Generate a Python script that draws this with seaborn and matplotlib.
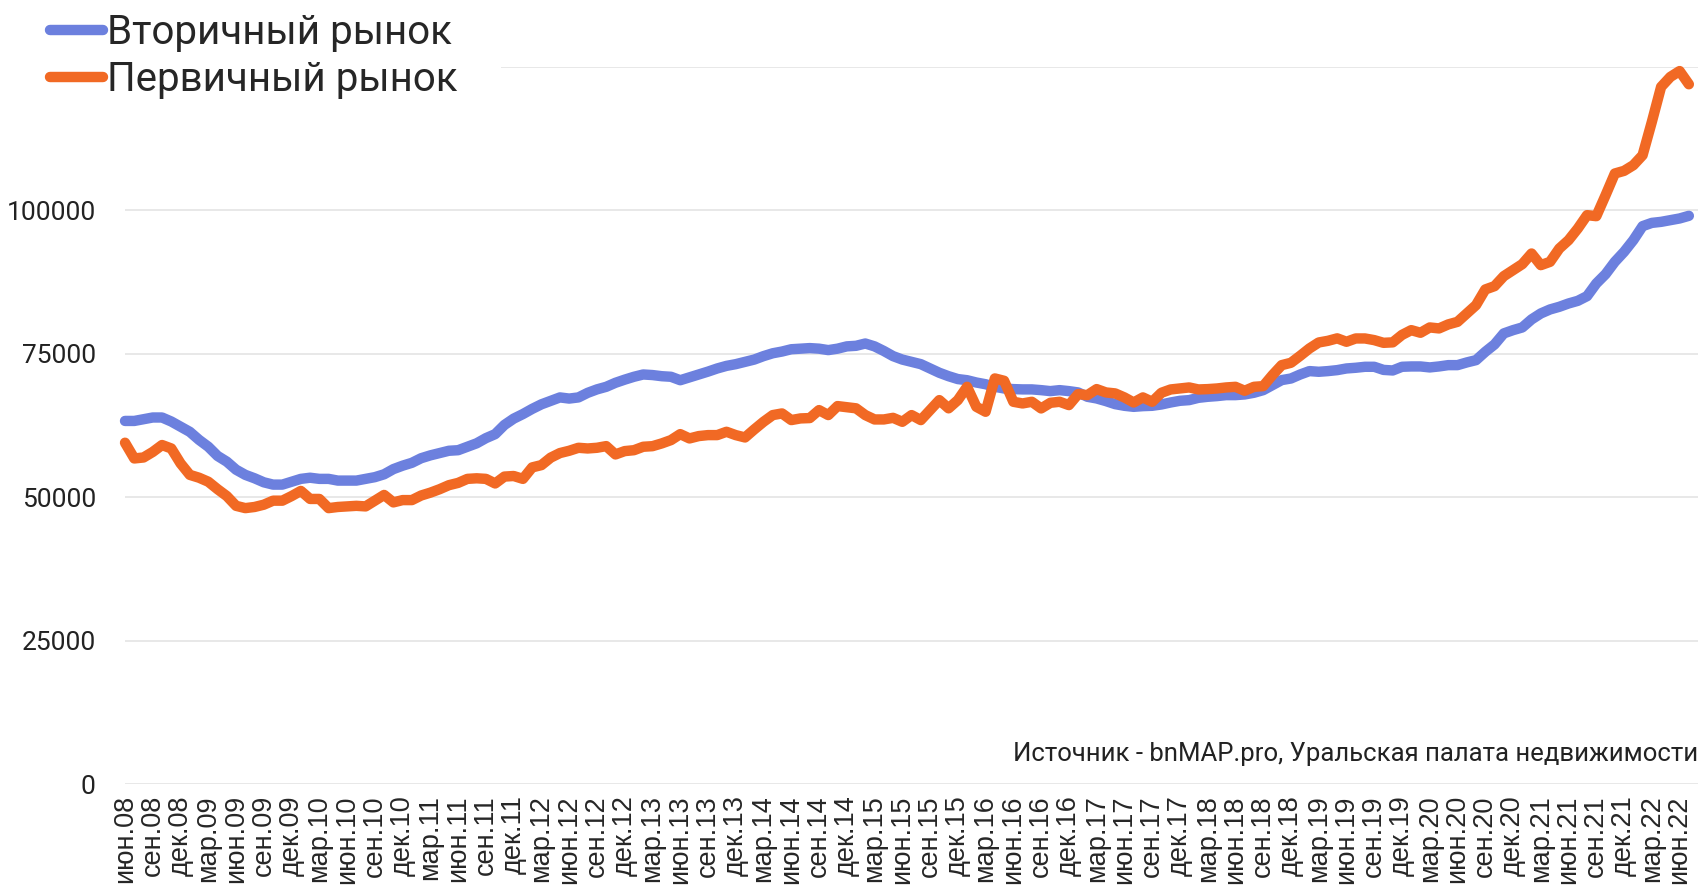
import numpy as np
import pandas as pd
import matplotlib.pyplot as plt
import seaborn as sns
from matplotlib.lines import Line2D
from matplotlib.patches import Rectangle

# average price per m2, monthly from июн.08 to июл.22
secondary = [63300, 63300, 63600, 63900, 63900, 63200, 62300, 61400, 60000, 58800,
             57200, 56200, 54800, 53900, 53300, 52600, 52200, 52200, 52700, 53200,
             53400, 53200, 53200, 52900, 52900, 52900, 53200, 53500, 54000, 54900,
             55500, 56000, 56800, 57300, 57700, 58100, 58200, 58800, 59400, 60300,
             61000, 62600, 63700, 64500, 65400, 66200, 66800, 67400, 67200, 67400,
             68200, 68800, 69250, 69950, 70500, 71000, 71400, 71300, 71100, 71000,
             70400, 70900, 71400, 71900, 72450, 72900, 73200, 73600, 74000, 74600,
             75100, 75400, 75800, 75900, 76000, 75900, 75650, 75900, 76300, 76400,
             76800, 76300, 75500, 74600, 74000, 73600, 73200, 72450, 71700, 71100,
             70600, 70400, 70000, 69700, 69250, 68960, 68850, 68800, 68800, 68670,
             68500, 68670, 68500, 68270, 67510, 67220, 66760, 66230, 65940, 65760,
             65880, 65940, 66170, 66520, 66810, 66930, 67330, 67510, 67630, 67800,
             67800, 67920, 68210, 68670, 69540, 70420, 70700, 71400, 71990, 71870,
             71990, 72160, 72450, 72570, 72740, 72740, 72200, 72100, 72740, 72800,
             72800, 72630, 72800, 73030, 73030, 73500, 73900, 75350, 76640, 78560,
             79130, 79600, 81000, 82040, 82740, 83200, 83780, 84240, 85060, 87270,
             88890, 91040, 92780, 94820, 97260, 97830, 98010, 98300, 98600, 99060]

primary = [59500, 56760, 56930, 57900, 59100, 58500, 55900, 53900, 53400, 52700,
           51400, 50200, 48500, 48100, 48300, 48700, 49400, 49400, 50200, 51100,
           49700, 49700, 48100, 48300, 48400, 48500, 48400, 49400, 50400, 49100,
           49500, 49500, 50300, 50800, 51400, 52100, 52500, 53200, 53300, 53200,
           52400, 53600, 53700, 53200, 55200, 55600, 56900, 57700, 58100, 58620,
           58500, 58620, 58910, 57460, 58040, 58200, 58800, 58900, 59380, 59960,
           61000, 60250, 60660, 60830, 60830, 61410, 60830, 60420, 61820, 63150,
           64320, 64610, 63450, 63740, 63800, 65190, 64320, 65890, 65700, 65500,
           64320, 63560, 63560, 63840, 63150, 64320, 63450, 65190, 66930, 65500,
           66930, 69250, 65770, 64900, 70710, 70300, 66640, 66350, 66640, 65480,
           66460, 66640, 66060, 67980, 67800, 68850, 68270, 68100, 67400, 66520,
           67400, 66640, 68210, 68790, 68960, 69140, 68790, 68850, 68960, 69140,
           69250, 68560, 69250, 69370, 71290, 73030, 73440, 74660, 75940, 76980,
           77270, 77700, 77100, 77680, 77680, 77390, 76920, 77000, 78300, 79130,
           78670, 79600, 79430, 80130, 80580, 82040, 83490, 86220, 86800, 88540,
           89590, 90640, 92490, 90460, 91040, 93360, 94820, 96850, 99180, 99000,
           102660, 106440, 106900, 107890, 109630, 115440, 121540, 123280, 124300, 122000]

series_names = ['Вторичный рынок', 'Первичный рынок']
colors = ['#6C80DE', '#F16924']

# quarterly tick labels
quarter_names = ['июн', 'сен', 'дек', 'мар']
tick_labels = ['%s.%02d' % (quarter_names[i % 4], 8 + (5 + 3 * i) // 12) for i in range(57)]
tick_pos = [3 * i for i in range(57)]

source_note = 'Источник - bnMAP.pro, Уральская палата недвижимости'

months = np.arange(len(secondary))
df = pd.concat([
    pd.DataFrame({'month': months, 'price': secondary, 'market': series_names[0]}),
    pd.DataFrame({'month': months, 'price': primary, 'market': series_names[1]}),
])

sns.set_style('white')
plt.rcParams['font.family'] = ['Roboto', 'DejaVu Sans']

fig = plt.figure(figsize=(17.01, 8.88), dpi=100)
ax = fig.add_axes([0.0735, 0.1171, 0.9248, 0.8074])

sns.lineplot(data=df, x='month', y='price', hue='market', hue_order=series_names,
             palette=dict(zip(series_names, colors)), linewidth=7.5, legend=False,
             solid_capstyle='round', solid_joinstyle='round', clip_on=False, ax=ax)

ax.set_xlim(0, 170)
ax.set_ylim(0, 125000)
ax.set_yticks([0, 25000, 50000, 75000, 100000, 125000])
ax.set_yticklabels(['0', '25000', '50000', '75000', '100000', '125000'])
ax.set_xticks(tick_pos)
ax.set_xticklabels(tick_labels, rotation=90, family=['Liberation Sans', 'DejaVu Sans'], fontsize=19.5)
ax.tick_params(axis='x', length=0, pad=8)
ax.tick_params(axis='y', length=0, pad=21, labelsize=19, labelcolor='#222222')
ax.grid(axis='y', color='#e4e4e4', linewidth=1.2)
ax.set_axisbelow(True)
for s in ax.spines.values():
    s.set_visible(False)
ax.set_xlabel('')
ax.set_ylabel('')

ax.text(1.0, 0.042, source_note, transform=ax.transAxes, ha='right', va='center',
        fontsize=18.5, color='#222222')

# white box behind the legend (hides the top gridline and its label)
fig.patches.append(Rectangle((0, 0.885), 0.2945, 0.115, transform=fig.transFigure,
                             facecolor='white', edgecolor='none', zorder=4))

handles = [Line2D([], [], color=c, linewidth=7.5, solid_capstyle='round') for c in colors]
fig.legend(handles, series_names, loc='upper left', bbox_to_anchor=(0.026, 0.992),
           fontsize=29, handlelength=1.3, handletextpad=0.12, labelspacing=0.2,
           borderpad=0.15, borderaxespad=0, frameon=False)

fig.savefig('out.png', dpi=100)
